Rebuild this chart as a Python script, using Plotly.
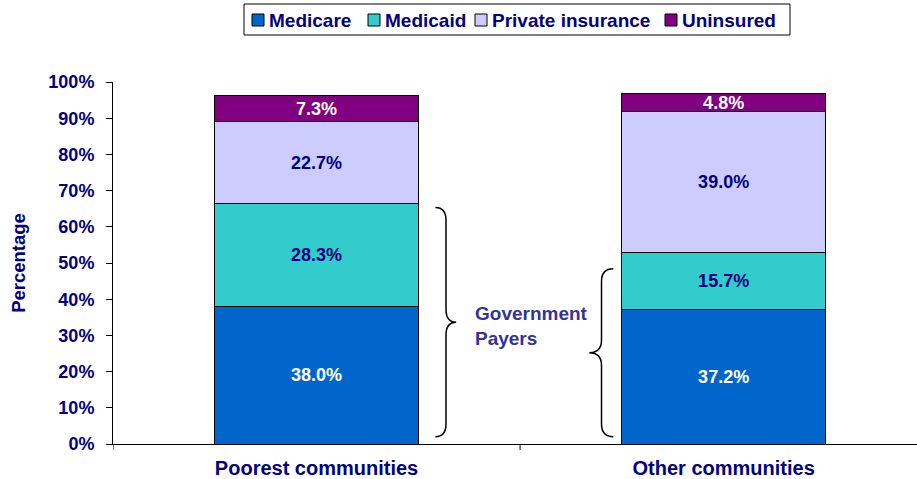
import plotly.graph_objects as go

categories = ["Poorest communities", "Other communities"]
series_names = ["Medicare", "Medicaid", "Private insurance", "Uninsured"]
medicare = [38.0, 37.2]
medicaid = [28.3, 15.7]
private_ins = [22.7, 39.0]
uninsured = [7.3, 4.8]
y_ticks = [0, 10, 20, 30, 40, 50, 60, 70, 80, 90, 100]

values = [medicare, medicaid, private_ins, uninsured]
colors = ["#0066CC", "#33CCCC", "#CCCCFF", "#800080"]
text_colors = ["white", "#000080", "#000080", "white"]
NAVY = "#000080"
FONT = "Arial, Liberation Sans, sans-serif"

W, H = 917, 479
ML, MR, MT, MB = 113, 0, 82, 35
PW, PH = W - ML - MR, H - MT - MB


def px_x(px):  # pixel -> paper x
    return (px - ML) / PW


def px_y(py):  # pixel -> paper y
    return (H - MB - py) / PH


xpos = list(range(len(categories)))

fig = go.Figure()
for name, vals, col, tcol in zip(series_names, values, colors, text_colors):
    fig.add_trace(go.Bar(
        x=xpos, y=vals, name=name, width=0.5, showlegend=False,
        marker=dict(color=col, line=dict(color="black", width=1)),
        text=[f"{v:.1f}%" for v in vals], textposition="inside",
        insidetextanchor="middle", textangle=0, constraintext="none",
        textfont=dict(family=FONT, size=18, color=tcol, weight="bold"),
        hoverinfo="skip",
    ))

# legend (drawn manually to match the compact original layout)
fig.add_shape(type="rect", xref="paper", yref="paper",
              x0=px_x(244), x1=px_x(790), y0=px_y(35), y1=px_y(4),
              line=dict(color="black", width=1), fillcolor="white")
sq_left = [252, 368, 475, 665]
for name, col, sx in zip(series_names, colors, sq_left):
    fig.add_shape(type="rect", xref="paper", yref="paper",
                  x0=px_x(sx), x1=px_x(sx + 12), y0=px_y(26), y1=px_y(14),
                  line=dict(color="black", width=1), fillcolor=col)
    fig.add_annotation(xref="paper", yref="paper", x=px_x(sx + 15), y=px_y(20),
                       xanchor="left", yanchor="middle", showarrow=False, text=name,
                       font=dict(family=FONT, size=19, color=NAVY, weight="bold"))


# braces for "Government Payers"
def brace(x_end, x_vert, x_tip, ybot, ytop, d=3.5):
    ymid = (ybot + ytop) / 2
    return (f"M {x_end},{ytop} Q {x_vert},{ytop} {x_vert},{ytop - d} "
            f"L {x_vert},{ymid + d} Q {x_vert},{ymid} {x_tip},{ymid} "
            f"Q {x_vert},{ymid} {x_vert},{ymid - d} "
            f"L {x_vert},{ybot + d} Q {x_vert},{ybot} {x_end},{ybot} ")


gov0 = medicare[0] + medicaid[0]
gov1 = medicare[1] + medicaid[1]
fig.add_shape(type="path", path=brace(0.292, 0.318, 0.343, 2, gov0 - 1),
              xref="x", yref="y", line=dict(color="black", width=1.5))
fig.add_shape(type="path", path=brace(0.729, 0.700, 0.670, 2, gov1 - 4.5),
              xref="x", yref="y", line=dict(color="black", width=1.5))
# category divider ticks
for xv in (-0.5, 0.5):
    fig.add_shape(type="line", x0=xv, x1=xv, y0=0, y1=px_y(H - MB + 6), xref="x", yref="paper",
                  line=dict(color="black", width=1))

fig.add_annotation(x=0.385, y=32.5, xref="x", yref="y", xanchor="left", yanchor="middle",
                   text="Government<br>Payers", showarrow=False, align="left",
                   font=dict(family=FONT, size=19, color="#333399", weight="bold"))

fig.update_layout(
    barmode="stack",
    width=W, height=H,
    margin=dict(l=ML, r=MR, t=MT, b=MB, autoexpand=False),
    paper_bgcolor="white", plot_bgcolor="white",
    font=dict(family=FONT, color=NAVY),
    showlegend=False,
    xaxis=dict(range=[-0.5, 1.475], tickvals=xpos, ticktext=categories, ticks="",
               showline=True, linecolor="black", linewidth=1, showgrid=False,
               zeroline=False, ticklabelstandoff=6, automargin=False,
               tickfont=dict(family=FONT, size=20, color=NAVY, weight="bold")),
    yaxis=dict(range=[0, 100], tickvals=y_ticks, ticktext=[f"{v}%" for v in y_ticks],
               ticks="outside", ticklen=6, tickcolor="black", showline=True,
               linecolor="black", linewidth=1, showgrid=False, zeroline=False,
               ticklabelstandoff=8, automargin=False,
               tickfont=dict(family=FONT, size=18, color=NAVY, weight="bold"),
               title=dict(text="Percentage", standoff=17,
                          font=dict(family=FONT, size=18.5, color=NAVY, weight="bold"))),
)

fig.write_html("out.html", config={"displayModeBar": False},
               post_script="document.body.style.margin='0px';")
